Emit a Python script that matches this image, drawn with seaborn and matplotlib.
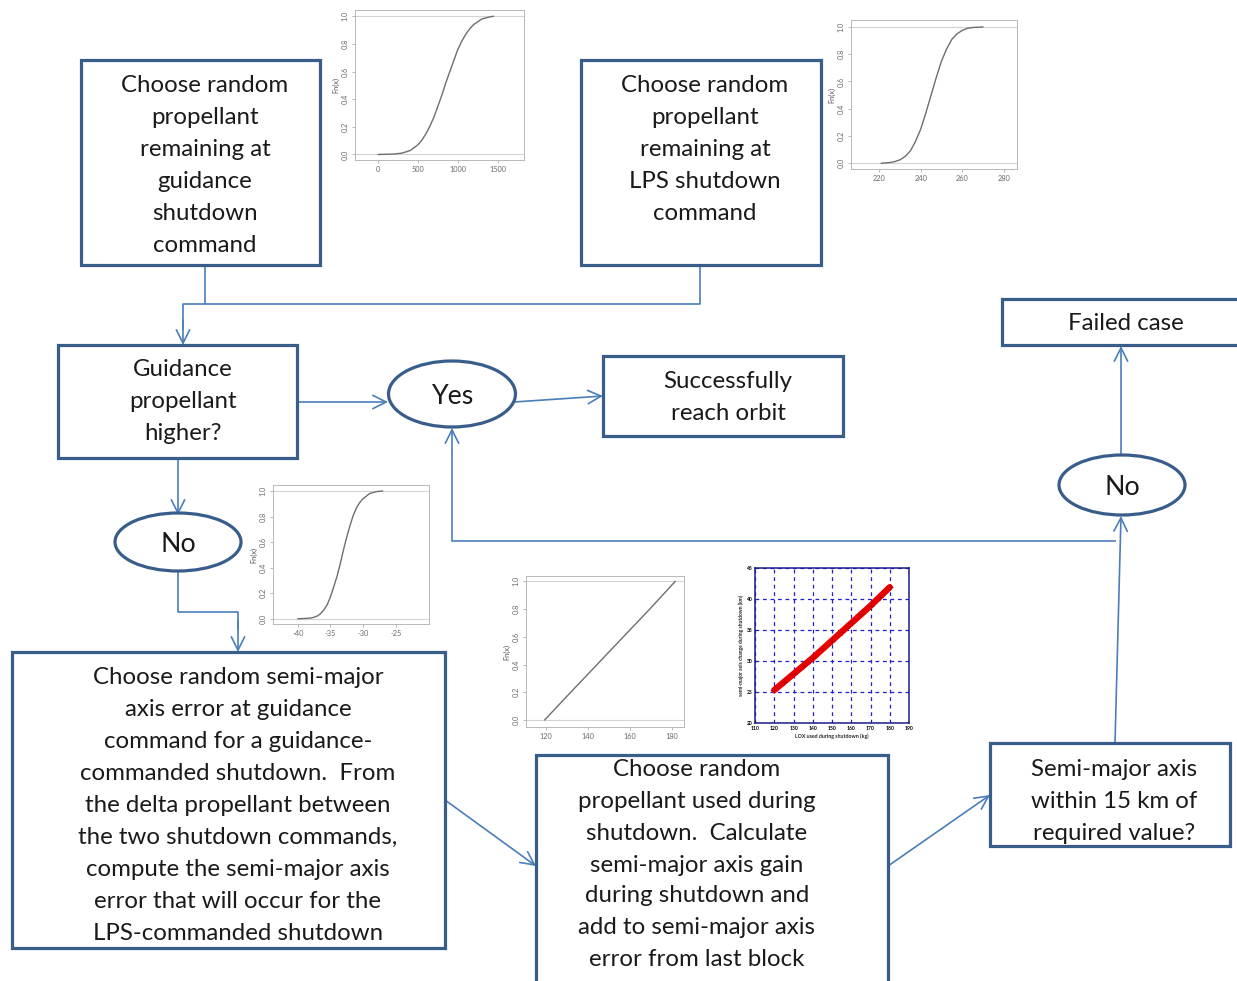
import matplotlib
matplotlib.use("Agg")
import matplotlib.pyplot as plt
from matplotlib.patches import Rectangle, Ellipse
import pandas as pd
import seaborn as sns

sns.set_theme(style="white")
plt.rcParams["font.family"] = ["Lato", "DejaVu Sans"]

W, H, DPI = 1237, 981, 100

# Empirical CDF: propellant remaining at guidance shutdown command
guid_prop = [0, 200, 300, 400, 500, 550, 600, 650, 700, 750, 800, 850, 900, 950,
             1000, 1050, 1100, 1150, 1200, 1300, 1400, 1450]
guid_cdf = [0.0, 0.003, 0.01, 0.028, 0.07, 0.105, 0.15, 0.205, 0.27, 0.35, 0.43,
            0.52, 0.60, 0.68, 0.76, 0.82, 0.87, 0.91, 0.94, 0.98, 0.995, 1.0]

# Empirical CDF: propellant remaining at LPS shutdown command
lps_prop = [221, 222.5, 225, 227.5, 230, 232.5, 235, 237.5, 240, 242.5, 245, 247.5,
            250, 252.5, 255, 257.5, 260, 262.5, 265, 270]
lps_cdf = [0.0, 0.002, 0.005, 0.012, 0.025, 0.05, 0.09, 0.16, 0.25, 0.37, 0.50,
           0.63, 0.75, 0.84, 0.91, 0.95, 0.975, 0.99, 0.996, 1.0]

# Empirical CDF: semi-major axis error at guidance command
sma_err = [-40, -39, -38, -37.5, -37, -36.5, -36, -35.5, -35, -34.5, -34, -33.5,
           -33, -32.5, -32, -31.5, -31, -30.5, -30, -29, -28, -27]
sma_err_cdf = [0.0, 0.002, 0.006, 0.012, 0.022, 0.04, 0.07, 0.11, 0.17, 0.25, 0.33,
               0.43, 0.54, 0.64, 0.73, 0.81, 0.87, 0.91, 0.94, 0.98, 0.995, 1.0]

# Empirical CDF: propellant used during shutdown (uniform)
used_prop = [119.5, 130, 140, 150, 160, 170, 181.5]
used_cdf = [0.0, 0.17, 0.33, 0.49, 0.65, 0.81, 1.0]

# LOX used vs semi-major axis change during shutdown
lox_used = [120, 125, 130, 135, 140, 145, 150, 155, 160, 165, 170, 175, 180]
sma_gain = [25.3, 26.6, 27.9, 29.2, 30.5, 31.9, 33.3, 34.7, 36.1, 37.5, 38.9, 40.4,
            41.9]

BOX = "#385D8A"
LINE = "#4A7EBB"
TXT = "#1a1a1a"
FS = 17.3

fig = plt.figure(figsize=(W / DPI, H / DPI), dpi=DPI)
fig.patch.set_facecolor("white")
ax = fig.add_axes([0, 0, 1, 1])
ax.set_xlim(0, W)
ax.set_ylim(H, 0)
ax.axis("off")


def box(x0, y0, x1, y1, cx, lines, ys):
    ax.add_patch(Rectangle((x0, y0), x1 - x0, y1 - y0, facecolor="white",
                           edgecolor=BOX, lw=2.3, zorder=3))
    for s, y in zip(lines, ys):
        ax.text(cx, y, s, ha="center", va="center_baseline", fontsize=FS,
                color=TXT, zorder=4)


def oval(cx, cy, w, h, label):
    ax.add_patch(Ellipse((cx, cy), w, h, facecolor="white", edgecolor=BOX,
                         lw=2.3, zorder=3))
    ax.text(cx, cy, label, ha="center", va="center_baseline", fontsize=FS + 2,
            color=TXT, zorder=4)


def arrow(p0, p1):
    ax.annotate("", xy=p1, xytext=p0, zorder=2,
                arrowprops=dict(arrowstyle="->,head_length=0.6,head_width=0.3",
                                color=LINE, lw=1.2, shrinkA=0, shrinkB=0,
                                mutation_scale=16))


def path(xs, ys):
    ax.plot(xs, ys, color=LINE, lw=1.2, zorder=2, solid_capstyle="butt")


# connectors
path([205, 205, 700, 700], [265, 304, 304, 265])
path([205, 183, 183], [304, 304, 330])
arrow((183, 320), (183, 345))
arrow((297, 402), (388, 402))
arrow((514, 402), (603, 396))
arrow((178, 458), (178, 515))
path([178, 178, 238, 238], [571, 612, 612, 630])
arrow((238, 620), (238, 652))
arrow((445, 800), (536, 866))
arrow((888, 866), (990, 795))
path([1116, 452, 452], [541, 541, 450])
arrow((452, 450), (452, 428))
arrow((1115, 743), (1121, 516))
arrow((1121, 456), (1121, 346))

# blocks
box(81, 60, 320, 265, 205,
    ["Choose random", "propellant", "remaining at", "guidance", "shutdown", "command"],
    [83, 115, 147, 179, 211, 243])
box(581, 60, 821, 265, 705,
    ["Choose random", "propellant", "remaining at", "LPS shutdown", "command"],
    [83, 115, 147, 179, 211])
box(58, 345, 297, 458, 183, ["Guidance", "propellant", "higher?"], [368, 400, 432])
box(603, 356, 843, 436, 728, ["Successfully", "reach orbit"], [380, 411])
box(1002, 299, 1242, 345, 1126, ["Failed case"], [322])
box(12, 652, 445, 948, 238,
    ["Choose random semi-major", "axis error at guidance", "command for a guidance-",
     "commanded shutdown.  From", "the delta propellant between",
     "the two shutdown commands,", "compute the semi-major axis",
     "error that will occur for the", "LPS-commanded shutdown"],
    [675, 707, 739, 771, 803, 835, 867, 899, 931])
box(536, 755, 888, 985, 697,
    ["Choose random", "propellant used during", "shutdown.  Calculate",
     "semi-major axis gain", "during shutdown and", "add to semi-major axis",
     "error from last block"],
    [767, 799, 831, 863, 894, 926, 958])
box(990, 743, 1230, 846, 1114,
    ["Semi-major axis", "within 15 km of", "required value?"], [767, 799, 831])
oval(452, 394, 127, 66, "Yes")
oval(178, 542, 126, 58, "No")
oval(1122, 485, 126, 60, "No")


def inset(l, t, r, b):
    return fig.add_axes([l / W, 1 - b / H, (r - l) / W, (b - t) / H])


def ecdf_plot(rect, xs, fs, xlim, ylim, xticks):
    a = inset(*rect)
    a.set_facecolor("white")
    a.axhline(0, color="#d4d4d4", lw=0.8)
    a.axhline(1, color="#d4d4d4", lw=0.8)
    sns.lineplot(data=pd.DataFrame({"x": xs, "F": fs}), x="x", y="F", ax=a,
                 color="#6e6e6e", lw=1.0, sort=True, estimator=None)
    a.set_xlim(*xlim)
    a.set_ylim(*ylim)
    a.set_xticks(xticks)
    a.set_xticklabels([str(v) for v in xticks])
    a.set_yticks([0, 0.2, 0.4, 0.6, 0.8, 1.0])
    a.set_yticklabels(["0.0", "0.2", "0.4", "0.6", "0.8", "1.0"], rotation=90,
                      va="center")
    a.set_xlabel("")
    a.set_ylabel("Fn(x)", fontsize=5.3, color="#555555", labelpad=2)
    a.tick_params(axis="both", labelsize=5.3, labelcolor="#6a6a6a", length=2.5,
                  width=0.5, color="#999999", pad=2, direction="out",
                  bottom=True, left=True)
    for sp in a.spines.values():
        sp.set_color("#b8b8b8")
        sp.set_linewidth(0.7)
    return a


ecdf_plot((355, 10, 524, 160), guid_prop, guid_cdf, (-290, 1830), (-0.04, 1.045),
          [0, 500, 1000, 1500])
ecdf_plot((851, 20, 1017, 169), lps_prop, lps_cdf, (206.5, 286.3), (-0.042, 1.051),
          [220, 240, 260, 280])
ecdf_plot((273, 485, 429, 624), sma_err, sma_err_cdf, (-43.8, -19.9), (-0.041, 1.047),
          [-40, -35, -30, -25])
ecdf_plot((526, 576, 684, 727), used_prop, used_cdf, (110.7, 185.6), (-0.05, 1.038),
          [120, 140, 160, 180])

# LOX used vs semi-major axis change
s = inset(755, 568, 909, 723)
s.set_facecolor("white")
df = pd.DataFrame({"lox": lox_used, "sma": sma_gain})
sns.lineplot(data=df, x="lox", y="sma", ax=s, color="#e60000", lw=4.6,
             estimator=None, zorder=3)
sns.scatterplot(data=df, x="lox", y="sma", ax=s, color="#c00000", marker="+",
                s=16, linewidth=0.6, zorder=4)
s.set_xlim(110, 190)
s.set_ylim(20, 45)
s.set_xticks(range(110, 191, 10))
s.set_yticks(range(20, 46, 5))
s.grid(True, color="#1f1fd0", ls=(0, (3, 3)), lw=0.9)
s.set_axisbelow(True)
s.tick_params(axis="both", labelsize=3.6, length=0, pad=2, labelcolor="black")
for lab in s.get_xticklabels() + s.get_yticklabels():
    lab.set_fontweight("bold")
s.set_xlabel("LOX used during shutdown (kg)", fontsize=3.8, labelpad=2,
             fontweight="bold")
s.set_ylabel("semi-major axis change during shutdown (km)", fontsize=3.6,
             labelpad=2, fontweight="bold")
for sp in s.spines.values():
    sp.set_color("#1c1c8c")
    sp.set_linewidth(1.1)

fig.savefig("out.png", dpi=DPI, facecolor="white")
